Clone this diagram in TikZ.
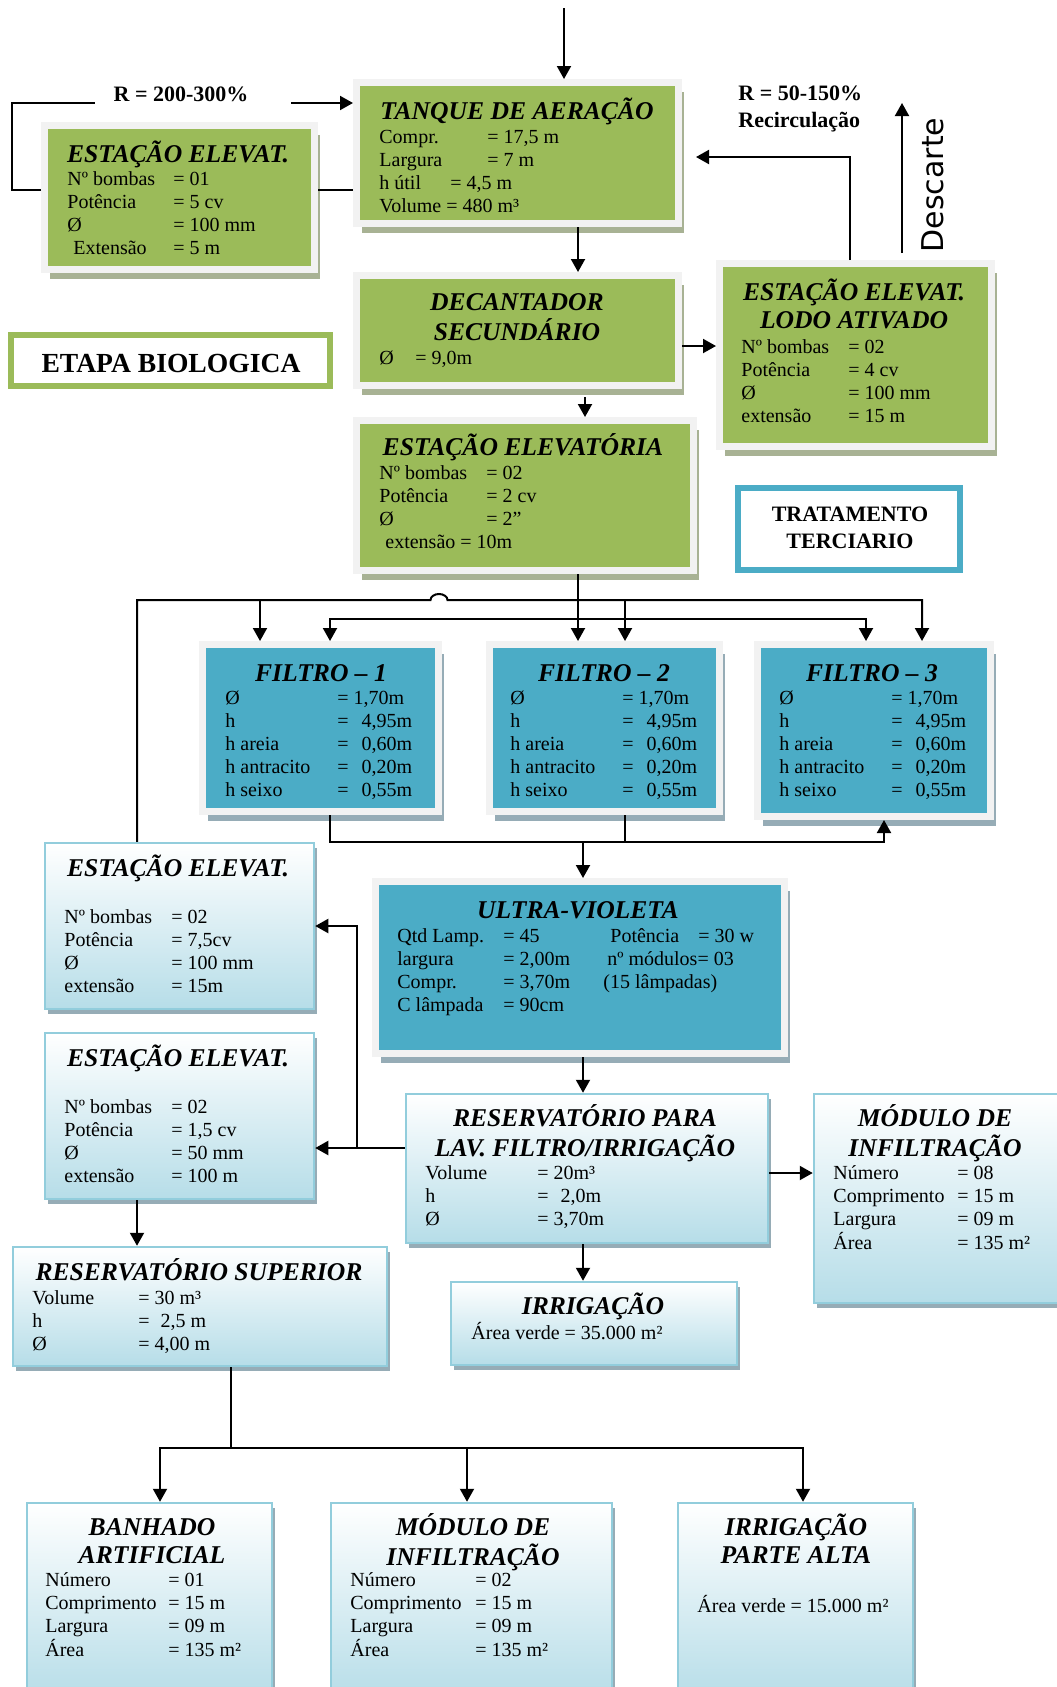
\documentclass[tikz,border=0pt]{standalone}
\usepackage{fontspec}
\setmainfont{Liberation Serif}
\newfontfamily\descfont{DejaVu Sans}
\usetikzlibrary{arrows.meta,shadows}
\definecolor{boxgreen}{RGB}{155,187,89}
\definecolor{boxteal}{RGB}{75,172,198}
\definecolor{framegray}{RGB}{242,242,242}
\definecolor{lblue}{RGB}{182,221,232}
\definecolor{lborder}{RGB}{146,205,220}
\definecolor{shadegreen}{RGB}{168,178,148}
\definecolor{shadeblue}{RGB}{150,172,182}
\tikzset{
  framebox/.style={draw=framegray, line width=3.5pt, inner sep=0pt},
  greenbox/.style={framebox, fill=boxgreen,
    drop shadow={shadow xshift=2.5pt, shadow yshift=-4.5pt, fill=shadegreen, opacity=1}},
  tealbox/.style={framebox, fill=boxteal,
    drop shadow={shadow xshift=2.5pt, shadow yshift=-4.5pt, fill=shadeblue, opacity=1}},
  lightbox/.style={draw=lborder, line width=1.25pt, top color=white, bottom color=lblue, inner sep=0pt,
    drop shadow={shadow xshift=1.5pt, shadow yshift=-2.5pt, fill=shadeblue, opacity=1}},
  stagebox/.style={draw=#1, line width=3pt, fill=white, inner sep=0pt},
  ttl/.style={font=\fontsize{12.8}{14.2}\selectfont\bfseries\itshape, anchor=base, inner sep=0pt},
  rows/.style={font=\fontsize{10}{11.6}\selectfont, anchor=base west, inner sep=0pt},
  lbl/.style={font=\fontsize{11}{13.5}\selectfont\bfseries, inner sep=0pt},
  conn/.style={line width=1pt},
  arr/.style={conn, -{Triangle[length=6.5pt,width=7pt]}},
  arrtwo/.style={conn, {Triangle[length=6.5pt,width=7pt]}-{Triangle[length=6.5pt,width=7pt]}}
}

\begin{document}
\begin{tikzpicture}[x=0.5pt, y=-0.5pt]
  \useasboundingbox (0,0) rectangle (1056,1687);

  % etapa biologica
  \node[greenbox, minimum width=135pt, minimum height=72pt] (ee1) at (179.5,197.5) {};
  \node[ttl] (ee1t) at (178,162) {ESTAÇÃO ELEVAT.};
  \node[rows] (ee1r) at (67,185) {\begin{tabular}[t]{@{}p{53pt}@{}l@{}}
    Nº bombas & = 01\\ Potência & = 5 cv\\ Ø & = 100 mm\\ \hspace*{3pt}Extensão & = 5 m
  \end{tabular}};

  \node[greenbox, minimum width=161pt, minimum height=70.5pt] (tanque) at (517.5,153) {};
  \node[ttl] (tanquet) at (517,119) {TANQUE DE AERAÇÃO};
  \node[rows] (tanquer) at (379,143) {\begin{tabular}[t]{@{}p{54pt}@{}l@{}}
    Compr. & = 17,5 m\\ Largura & = 7 m\\
    \multicolumn{2}{@{}l@{}}{\makebox[35.5pt][l]{h útil}= 4,5 m}\\
    \multicolumn{2}{@{}l@{}}{Volume = 480 m³}
  \end{tabular}};

  \node[greenbox, minimum width=161pt, minimum height=55pt] (dec) at (517.5,330.5) {};
  \node[ttl] (dect) at (517,310) {\begin{tabular}[t]{@{}c@{}}DECANTADOR\\ SECUNDÁRIO\end{tabular}};
  \node[rows] (decr) at (379,364) {\makebox[18pt][l]{Ø}= 9,0m};

  \node[greenbox, minimum width=168.5pt, minimum height=75pt] (eev) at (525,495.5) {};
  \node[ttl] (eevt) at (523,455) {ESTAÇÃO ELEVATÓRIA};
  \node[rows] (eevr) at (379,479) {\begin{tabular}[t]{@{}p{53.5pt}@{}l@{}}
    Nº bombas & = 02\\ Potência & = 2 cv\\ Ø & = 2”\\
    \multicolumn{2}{@{}l@{}}{\hspace*{3pt}extensão = 10m}
  \end{tabular}};

  \node[greenbox, minimum width=136pt, minimum height=91.5pt] (eelodo) at (855.5,355) {};
  \node[ttl] (eelodot) at (854,300) {\begin{tabular}[t]{@{}c@{}}ESTAÇÃO ELEVAT.\\ LODO ATIVADO\end{tabular}};
  \node[rows] (eelodor) at (741,353) {\begin{tabular}[t]{@{}p{53.5pt}@{}l@{}}
    Nº bombas & = 02\\ Potência & = 4 cv\\ Ø & = 100 mm\\ extensão & = 15 m
  \end{tabular}};

  \node[stagebox=boxgreen, minimum width=159.5pt, minimum height=25.5pt] (etapa) at (170.5,360.5) {};
  \node[font=\fontsize{13.8}{16}\selectfont\bfseries, anchor=base, inner sep=0pt] (etapat) at (171,372) {ETAPA BIOLOGICA};

  % tratamento terciario
  \node[stagebox=boxteal, minimum width=111pt, minimum height=41pt] (terc) at (849,529) {};
  \node[lbl, anchor=base] (terct) at (850,521) {\begin{tabular}[t]{@{}c@{}}TRATAMENTO\\ TERCIARIO\end{tabular}};

  \node[tealbox, minimum width=118pt, minimum height=83.5pt] (f1) at (320.5,728) {};
  \node[tealbox, minimum width=115pt, minimum height=83.5pt] (f2) at (604.5,728) {};
  \node[tealbox, minimum width=116.5pt, minimum height=86pt] (f3) at (874,730.5) {};
  \node[ttl] (f1t) at (321,681) {FILTRO – 1};
  \node[ttl] (f2t) at (604,681) {FILTRO – 2};
  \node[ttl] (f3t) at (872,681) {FILTRO – 3};
  \node[rows] (f1r) at (225,704) {\begin{tabular}[t]{@{}p{56pt}@{}l@{}}
    Ø & = 1,70m\\ h & = \hspace{4pt}4,95m\\ h areia & = \hspace{4pt}0,60m\\
    h antracito & = \hspace{4pt}0,20m\\ h seixo & = \hspace{4pt}0,55m
  \end{tabular}};
  \node[rows] (f2r) at (510,704) {\begin{tabular}[t]{@{}p{56pt}@{}l@{}}
    Ø & = 1,70m\\ h & = \hspace{4pt}4,95m\\ h areia & = \hspace{4pt}0,60m\\
    h antracito & = \hspace{4pt}0,20m\\ h seixo & = \hspace{4pt}0,55m
  \end{tabular}};
  \node[rows] (f3r) at (779,704) {\begin{tabular}[t]{@{}p{56pt}@{}l@{}}
    Ø & = 1,70m\\ h & = \hspace{4pt}4,95m\\ h areia & = \hspace{4pt}0,60m\\
    h antracito & = \hspace{4pt}0,20m\\ h seixo & = \hspace{4pt}0,55m
  \end{tabular}};

  \node[tealbox, minimum width=204.5pt, minimum height=86pt] (uv) at (580,967.5) {};
  \node[ttl] (uvt) at (578,918) {ULTRA-VIOLETA};
  \node[rows] (uvr) at (397,942) {\begin{tabular}[t]{@{}p{53pt}@{}p{53.5pt}@{}p{44pt}@{}l@{}}
    Qtd Lamp. & = 45 & Potência & = 30 w\\
    largura & = 2,00m & \multicolumn{2}{@{}l@{}}{\hspace*{-1.5pt}nº módulos= 03}\\
    Compr. & = 3,70m & \multicolumn{2}{@{}l@{}}{\hspace*{-3.5pt}(15 lâmpadas)}\\
    C lâmpada & = 90cm & &
  \end{tabular}};

  \node[lightbox, minimum width=134.5pt, minimum height=83pt] (ee3) at (179.5,926) {};
  \node[ttl] (ee3t) at (178,876) {ESTAÇÃO ELEVAT.};
  \node[rows] (ee3r) at (64,923) {\begin{tabular}[t]{@{}p{53.5pt}@{}l@{}}
    Nº bombas & = 02\\ Potência & = 7,5cv\\ Ø & = 100 mm\\ extensão & = 15m
  \end{tabular}};

  \node[lightbox, minimum width=134.5pt, minimum height=83pt] (ee4) at (179.5,1116) {};
  \node[ttl] (ee4t) at (178,1066) {ESTAÇÃO ELEVAT.};
  \node[rows] (ee4r) at (64,1113) {\begin{tabular}[t]{@{}p{53.5pt}@{}l@{}}
    Nº bombas & = 02\\ Potência & = 1,5 cv\\ Ø & = 50 mm\\ extensão & = 100 m
  \end{tabular}};

  \node[lightbox, minimum width=181pt, minimum height=74.5pt] (lav) at (587,1168.5) {};
  \node[ttl] (lavt) at (585,1126) {\begin{tabular}[t]{@{}c@{}}RESERVATÓRIO PARA\\ LAV. FILTRO/IRRIGAÇÃO\end{tabular}};
  \node[rows] (lavr) at (425,1179) {\begin{tabular}[t]{@{}p{56pt}@{}l@{}}
    Volume & = 20m³\\ h & =\hspace{6pt}2,0m\\ Ø & = 3,70m
  \end{tabular}};

  \node[lightbox, minimum width=124.5pt, minimum height=104.5pt] (mod1) at (938.5,1198.5) {};
  \node[ttl] (mod1t) at (935,1126) {\begin{tabular}[t]{@{}c@{}}MÓDULO DE\\ INFILTRAÇÃO\end{tabular}};
  \node[rows] (mod1r) at (833,1179) {\begin{tabular}[t]{@{}p{62pt}@{}l@{}}
    Número & = 08\\ Comprimento & = 15 m\\ Largura & = 09 m\\ Área & = 135 m²
  \end{tabular}};

  \node[lightbox, minimum width=143pt, minimum height=41.5pt] (irr) at (594,1323.5) {};
  \node[ttl] (irrt) at (593,1314) {IRRIGAÇÃO};
  \node[rows] (irrr) at (471,1339) {Área verde = 35.000 m²};

  \node[lightbox, minimum width=187pt, minimum height=59.5pt] (ressup) at (200,1306.5) {};
  \node[ttl] (ressupt) at (199,1280) {RESERVATÓRIO SUPERIOR};
  \node[rows] (ressupr) at (32,1304) {\begin{tabular}[t]{@{}p{53pt}@{}l@{}}
    Volume & = 30 m³\\ h & = \hspace{3pt}2,5 m\\ Ø & = 4,00 m
  \end{tabular}};

  \node[lightbox, minimum width=122.5pt, minimum height=98.5pt] (banh) at (149.5,1601.5) {};
  \node[ttl] (banht) at (152,1535) {\begin{tabular}[t]{@{}c@{}}BANHADO\\ ARTIFICIAL\end{tabular}};
  \node[rows] (banhr) at (45,1586) {\begin{tabular}[t]{@{}p{61.5pt}@{}l@{}}
    Número & = 01\\ Comprimento & = 15 m\\ Largura & = 09 m\\ Área & = 135 m²
  \end{tabular}};

  \node[lightbox, minimum width=140.5pt, minimum height=98.5pt] (mod2) at (471.5,1601.5) {};
  \node[ttl] (mod2t) at (473,1535) {\begin{tabular}[t]{@{}c@{}}MÓDULO DE\\ INFILTRAÇÃO\end{tabular}};
  \node[rows] (mod2r) at (350,1586) {\begin{tabular}[t]{@{}p{62.5pt}@{}l@{}}
    Número & = 02\\ Comprimento & = 15 m\\ Largura & = 09 m\\ Área & = 135 m²
  \end{tabular}};

  \node[lightbox, minimum width=117.5pt, minimum height=98.5pt] (irr2) at (795.5,1601.5) {};
  \node[ttl] (irr2t) at (796,1535) {\begin{tabular}[t]{@{}c@{}}IRRIGAÇÃO\\ PARTE ALTA\end{tabular}};
  \node[rows] (irr2r) at (697,1612) {Área verde = 15.000 m²};

  % labels
  \node[lbl, anchor=base] (r200) at (181,101) {R = 200-300\%};
  \node[lbl, anchor=base west] (r50) at (738,100) {\begin{tabular}[t]{@{}l@{}}R = 50-150\%\\ Recirculação\end{tabular}};
  \node[font=\descfont\fontsize{15}{18}\selectfont, rotate=90, inner sep=0pt] (descl) at (933,185) {Descarte};

  % connectors
  \coordinate (feed) at (564,8);
  \draw[arr] (feed) -- (tanque.north -| feed);

  \coordinate (r1) at (12,190);
  \coordinate (r2) at (12,103);
  \coordinate (ra) at (95,103);
  \coordinate (rb) at (291,103);
  \draw[conn] (tanque.west |- r1) -- (ee1.east |- r1);
  \draw[conn] (ee1.west |- r1) -- (r1) -- (r2) -- (ra);
  \draw[arr] (rb) -- (tanque.west |- rb);

  \coordinate (c578) at (578,0);
  \draw[arr] (tanque.south -| c578) -- (dec.north -| c578);
  \coordinate (l346) at (0,346);
  \draw[arr] (dec.east |- l346) -- (eelodo.west |- l346);
  \coordinate (rc) at (850,157);
  \draw[arr, shorten >=7pt] (eelodo.north -| rc) -- (rc) -- (tanque.east |- rc);
  \coordinate (desc) at (902,103);
  \draw[arr, shorten <=3.5pt] (eelodo.north -| desc) -- (desc);

  \coordinate (c585) at (585,0);
  \draw[arr, shorten <=4pt] (dec.south -| c585) -- (eev.north -| c585);

  \draw[arr] (eev.south -| c578) -- (f2.north -| c578);
  \coordinate (d1) at (330,619);
  \coordinate (d3) at (866,619);
  \draw[arrtwo] (f1.north -| d1) -- (d1) -- (d3) -- (f3.north -| d3);

  \coordinate (w0) at (137,600);
  \coordinate (w1) at (260,600);
  \coordinate (hop) at (430.5,600);
  \coordinate (w2) at (625,600);
  \coordinate (w3) at (922,600);
  \draw[arr] (ee3.north -| w0) -- (w0) -- (hop)
    arc[start angle=180, end angle=0, x radius=4.25pt, y radius=3pt] -- (w3) -- (f3.north -| w3);
  \draw[arr] (w1) -- (f1.north -| w1);
  \draw[arr] (w2) -- (f2.north -| w2);

  \coordinate (u0) at (583,842);
  \coordinate (u1) at (330,842);
  \coordinate (u2) at (625,842);
  \coordinate (u3) at (884,842);
  \draw[arr] (f1.south -| u1) -- (u1) -- (u3) -- (f3.south -| u3);
  \draw[conn] (f2.south -| u2) -- (u2);
  \draw[arr] (u0) -- (uv.north -| u0);

  \coordinate (c583) at (583,0);
  \draw[arr] (uv.south -| c583) -- (lav.north -| c583);
  \coordinate (b0) at (357,1148);
  \coordinate (b1) at (357,926);
  \draw[arr] (lav.west |- b0) -- (ee4.east |- b0);
  \draw[arr] (b0) -- (b1) -- (ee3.east |- b1);
  \coordinate (m0) at (0,1173);
  \draw[arr] (lav.east |- m0) -- (mod1.west |- m0);
  \draw[arr] (lav.south -| c583) -- (irr.north -| c583);
  \draw[arr] (ee4.south -| w0) -- (ressup.north -| w0);

  \coordinate (s0) at (231,1448);
  \coordinate (s1) at (160,1448);
  \coordinate (s2) at (467,1448);
  \coordinate (s3) at (803,1448);
  \draw[conn] (ressup.south -| s0) -- (s0);
  \draw[arrtwo] (banh.north -| s1) -- (s1) -- (s3) -- (irr2.north -| s3);
  \draw[arr] (s2) -- (mod2.north -| s2);
\end{tikzpicture}
\end{document}
